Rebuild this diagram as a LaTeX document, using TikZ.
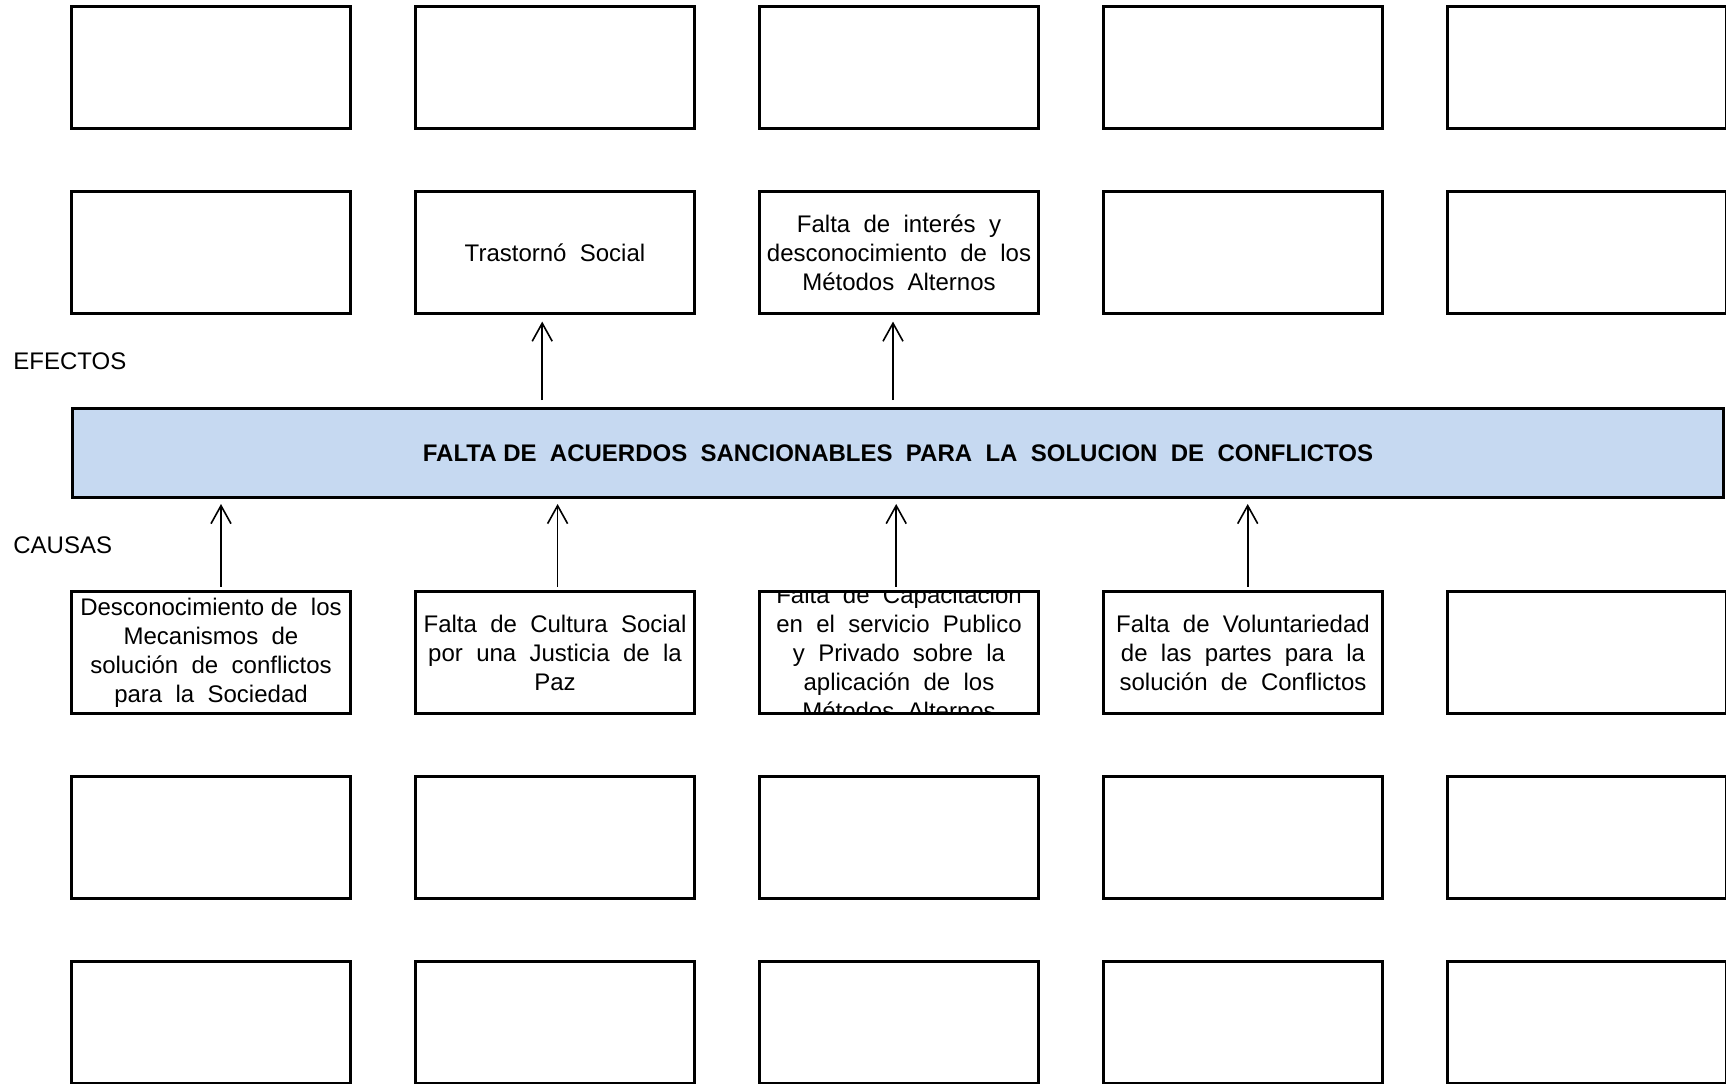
\documentclass[tikz,border=0pt]{standalone}
\usepackage{fontspec}
\setmainfont{Liberation Sans}
\usetikzlibrary{calc,arrows.meta}
\definecolor{azulclaro}{HTML}{C6D9F1}
\newcommand{\letra}{\fontsize{12}{14.5}\selectfont\spaceskip=0.556em\relax}
\tikzset{%
  caja/.style={draw,line width=1.5pt,minimum width=139.25pt,minimum height=61pt,inner sep=1pt,align=center,font=\letra},
  problema/.style={caja,fill=azulclaro,minimum width=825.5pt,minimum height=44.5pt,font=\letra\bfseries},
  rotulo/.style={anchor=west,inner sep=0pt,font=\letra},
  flecha/.style={draw,line width=0.8pt,-{Straight Barb[length=9pt,width=10pt]}}
}

\begin{document}
\begin{tikzpicture}[x=0.5pt,y=-0.5pt]
    \useasboundingbox (0,0) rectangle (1726,1083);
    % efectos
    \path
      (211,67.5) node[caja] (ea1) {} (555,67.5) node[caja] (ea2) {} (899,67.5) node[caja] (ea3) {}
      (1243,67.5) node[caja] (ea4) {} (1587,67.5) node[caja] (ea5) {};
    \path
      (211,252.5) node[caja] (eb1) {} (555,252.5) node[caja] (eb2) {Trastornó Social}
      (899,252.5) node[caja] (eb3) {Falta de interés y\\desconocimiento de los\\Métodos Alternos}
      (1243,252.5) node[caja] (eb4) {} (1587,252.5) node[caja] (eb5) {};
    % problema central
    \path (898,453) node[problema] (prob) {{\spaceskip=0pt\relax FALTA DE} ACUERDOS SANCIONABLES PARA LA SOLUCION DE CONFLICTOS};
    \node[rotulo] (efectos) at (13,361) {EFECTOS};
    \node[rotulo] (causas) at (13,545) {CAUSAS};
    % causas
    \path
      (211,652.5) node[caja] (ca1) {{\spaceskip=0pt\relax Desconocimiento de} los\\Mecanismos de\\solución de conflictos\\para la Sociedad}
      (555,652.5) node[caja] (ca2) {Falta de Cultura Social\\por una Justicia de la\\Paz}
      (899,652.5) node[caja,path picture={\node[draw=none,fill=none,inner sep=0pt,minimum width=0pt,minimum height=0pt,align=center,font=\letra]
        at (path picture bounding box.center) {Falta de Capacitación\\en el servicio Publico\\y Privado sobre la\\aplicación de los\\Métodos Alternos};}] (ca3) {}
      (1243,652.5) node[caja] (ca4) {Falta de Voluntariedad\\de las partes para la\\solución de Conflictos}
      (1587,652.5) node[caja] (ca5) {};
    \path
      (211,837.5) node[caja] (cb1) {} (555,837.5) node[caja] (cb2) {} (899,837.5) node[caja] (cb3) {}
      (1243,837.5) node[caja] (cb4) {} (1587,837.5) node[caja] (cb5) {};
    \path
      (211,1022.5) node[caja] (cc1) {} (555,1022.5) node[caja] (cc2) {} (899,1022.5) node[caja] (cc3) {}
      (1243,1022.5) node[caja] (cc4) {} (1587,1022.5) node[caja] (cc5) {};
    % flechas
    \draw[flecha,shorten <=3.5pt,shorten >=3.3pt] ($(eb2.south |- prob.north)+(-12.8,0)$) -- ($(eb2.south)+(-12.8,0)$);
    \draw[flecha,shorten <=3.5pt,shorten >=3.3pt] ($(eb3.south |- prob.north)+(-6,0)$) -- ($(eb3.south)+(-6,0)$);
    \draw[flecha,shorten <=1.7pt,shorten >=2.5pt] ($(ca1.north)+(10,0)$) -- ($(ca1.north |- prob.south)+(10,0)$);
    \draw[flecha,shorten <=1.7pt,shorten >=2.5pt] ($(ca2.north)+(2.6,0)$) -- ($(ca2.north |- prob.south)+(2.6,0)$);
    \draw[flecha,shorten <=1.7pt,shorten >=2.5pt] ($(ca3.north)+(-2.8,0)$) -- ($(ca3.north |- prob.south)+(-2.8,0)$);
    \draw[flecha,shorten <=1.7pt,shorten >=2.5pt] ($(ca4.north)+(4.7,0)$) -- ($(ca4.north |- prob.south)+(4.7,0)$);
\end{tikzpicture}
\end{document}
